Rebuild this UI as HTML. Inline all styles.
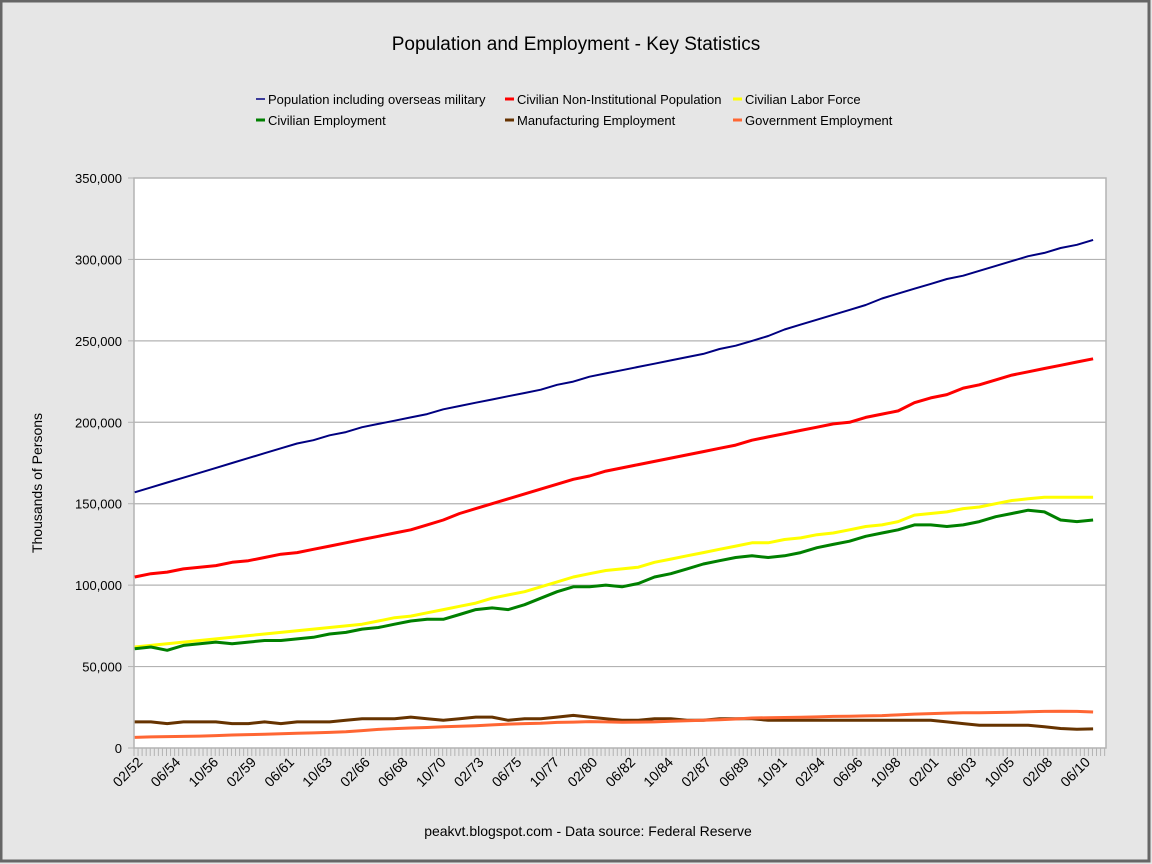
<!DOCTYPE html>
<html><head><meta charset="utf-8"><style>
html,body{margin:0;padding:0;background:#e6e6e6}
svg{display:block;font-family:"Liberation Sans",sans-serif}
</style></head><body>
<svg id="c" width="1152" height="864" xmlns="http://www.w3.org/2000/svg">
<rect x="1" y="1" width="1148" height="860" fill="#e6e6e6" stroke="#666" stroke-width="3"/>
<text x="576" y="50" font-size="19" text-anchor="middle" fill="#000">Population and Employment - Key Statistics</text>
<text transform="translate(42,483) rotate(-90)" font-size="14" text-anchor="middle">Thousands of Persons</text>
<text x="588" y="836" font-size="14" text-anchor="middle">peakvt.blogspot.com - Data source: Federal Reserve</text>
<rect x="134" y="178" width="972" height="570" fill="#fff" stroke="#b3b3b3" stroke-width="1.5"/>
<g id="grid"></g><g id="ticks"></g><g id="series"></g><g id="legend"></g>
</svg>
<script>
const years=[];for(let y=1952;y<=2011;y++)years.push(y);
const yTicks=[0,50000,100000,150000,200000,250000,300000,350000];
const xTickLabels=["02/52","06/54","10/56","02/59","06/61","10/63","02/66","06/68","10/70","02/73","06/75","10/77","02/80","06/82","10/84","02/87","06/89","10/91","02/94","06/96","10/98","02/01","06/03","10/05","02/08","06/10"];
const popTotal=[157,160,163,166,169,172,175,178,181,184,187,189,192,194,197,199,201,203,205,208,210,212,214,216,218,220,223,225,228,230,232,234,236,238,240,242,245,247,250,253,257,260,263,266,269,272,276,279,282,285,288,290,293,296,299,302,304,307,309,312];
const civPop=[105,107,108,110,111,112,114,115,117,119,120,122,124,126,128,130,132,134,137,140,144,147,150,153,156,159,162,165,167,170,172,174,176,178,180,182,184,186,189,191,193,195,197,199,200,203,205,207,212,215,217,221,223,226,229,231,233,235,237,239];
const laborForce=[62,63,64,65,66,67,68,69,70,71,72,73,74,75,76,78,80,81,83,85,87,89,92,94,96,99,102,105,107,109,110,111,114,116,118,120,122,124,126,126,128,129,131,132,134,136,137,139,143,144,145,147,148,150,152,153,154,154,154,154];
const civEmp=[61,62,60,63,64,65,64,65,66,66,67,68,70,71,73,74,76,78,79,79,82,85,86,85,88,92,96,99,99,100,99,101,105,107,110,113,115,117,118,117,118,120,123,125,127,130,132,134,137,137,136,137,139,142,144,146,145,140,139,140];
const mfgEmp=[16,16,15,16,16,16,15,15,16,15,16,16,16,17,18,18,18,19,18,17,18,19,19,17,18,18,19,20,19,18,17,17,18,18,17,17,18,18,18,17,17,17,17,17,17,17,17,17,17,17,16,15,14,14,14,14,13,12,11.5,11.7];
const govEmp=[6.5,6.8,7,7.1,7.3,7.6,8,8.2,8.4,8.7,9,9.3,9.6,10,10.7,11.4,11.9,12.3,12.6,13,13.4,13.7,14.2,14.7,15,15.2,15.7,15.9,16.2,16,15.8,15.9,16,16.4,16.7,17,17.4,17.8,18.4,18.6,18.7,18.9,19.1,19.4,19.5,19.7,19.9,20.3,20.8,21.1,21.4,21.6,21.6,21.8,21.9,22.2,22.5,22.6,22.5,22.1];
const NS="http://www.w3.org/2000/svg";
const X0=134,X1=1106,Y0=748,Y1=178,MONTHS=718;
const xm=m=>X0+m/MONTHS*(X1-X0);
const xs=yr=>xm((yr-1952)*12+0.5);
const ys=v=>Y0-v/350000*(Y0-Y1);
function mk(t,a,p){const e=document.createElementNS(NS,t);for(const k in a)e.setAttribute(k,a[k]);(p||document.getElementById('c')).appendChild(e);return e;}
const grid=document.getElementById('grid'),ticks=document.getElementById('ticks');
yTicks.forEach(v=>{
  if(v>0&&v<350000){const l=mk('line',{x1:X0,x2:X1,y1:ys(v),y2:ys(v),stroke:'#b3b3b3','stroke-width':1.2},grid);
  
  }
  const t=mk('text',{x:122,y:ys(v)+5,'font-size':13,'text-anchor':'end'},ticks);
  t.textContent=v.toLocaleString('en-US');
  
  
  const tk=mk('line',{x1:X0-6,x2:X0,y1:ys(v),y2:ys(v),stroke:'#b3b3b3'},ticks);
  
  
});
for(let m=0;m<=MONTHS;m+=3){const tk=mk('line',{x1:xm(m),x2:xm(m),y1:Y0,y2:Y0+8,stroke:'#b3b3b3','stroke-width':1},ticks);
  
  }
xTickLabels.forEach(s=>{
  const mo=+s.slice(0,2),yy=+s.slice(3);const yr=yy<20?2000+yy:1900+yy;
  const m=(yr-1952)*12+mo-1;const x=xm(m)+8,y=763;
  const t=mk('text',{transform:`translate(${x},${y}) rotate(-45)`,'font-size':14,'text-anchor':'end'},ticks);
  t.textContent=s;
  
  
});
const series=[
 ['population-line',popTotal,'#000080',2,'Population including overseas military',256,104],
 ['civilian-population-line',civPop,'#ff0000',3,'Civilian Non-Institutional Population',505,104],
 ['labor-force-line',laborForce,'#ffff00',3,'Civilian Labor Force',733,104],
 ['civilian-employment-line',civEmp,'#008000',3,'Civilian Employment',256,125],
 ['manufacturing-line',mfgEmp,'#663300',3,'Manufacturing Employment',505,125],
 ['government-line',govEmp,'#ff6633',3,'Government Employment',733,125]];
const sg=document.getElementById('series'),lg=document.getElementById('legend');
series.forEach(([n,d,c,w,lab,lx,ly])=>{
  const pts=d.map((v,i)=>xs(years[i]).toFixed(1)+','+ys(v*1000).toFixed(1)).join(' ');
  const p=mk('polyline',{points:pts,fill:'none',stroke:c,'stroke-width':w,'stroke-linejoin':'round'},sg);
  
  
  const sw=mk('line',{x1:lx,x2:lx+9,y1:ly-5,y2:ly-5,stroke:c,'stroke-width':w==2?1.5:3},lg);
  
  
  const t=mk('text',{x:lx+12,y:ly,'font-size':13},lg);
  t.textContent=lab;
  
  
});
</script>
</body></html>
